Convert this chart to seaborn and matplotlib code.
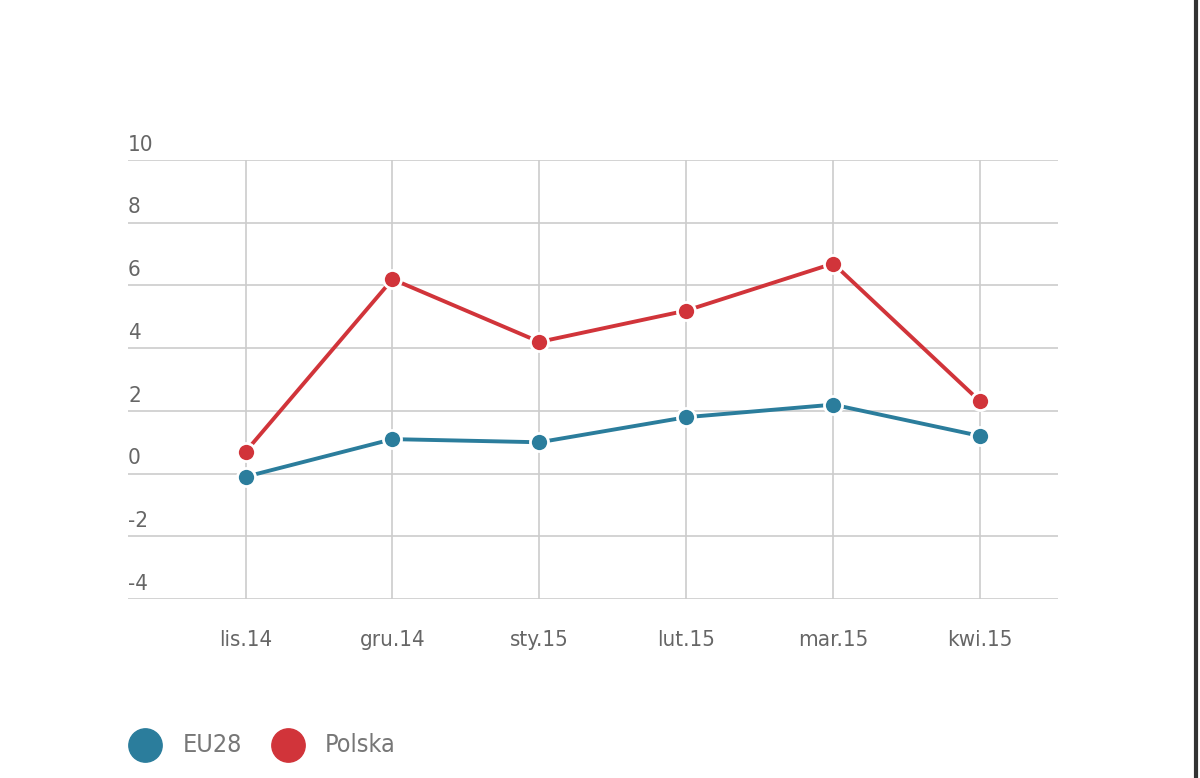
import matplotlib
matplotlib.use("Agg")
import matplotlib.pyplot as plt
import seaborn as sns
import pandas as pd

months = ["lis.14", "gru.14", "sty.15", "lut.15", "mar.15", "kwi.15"]
eu28 = [-0.1, 1.1, 1.0, 1.8, 2.2, 1.2]
polska = [0.7, 6.2, 4.2, 5.2, 6.7, 2.3]
yticks = [-4, -2, 0, 2, 4, 6, 8, 10]

colors = {"EU28": "#2b7d9c", "Polska": "#d1343a"}
df = pd.DataFrame({"x": list(range(len(months))) * 2,
                   "v": eu28 + polska,
                   "s": ["EU28"] * 6 + ["Polska"] * 6})

from matplotlib import font_manager
names = {f.name for f in font_manager.fontManager.ttflist}
fam = "Liberation Sans Narrow" if "Liberation Sans Narrow" in names else "DejaVu Sans"
plt.rcParams["font.family"] = fam
plt.rcParams["font.stretch"] = "condensed"

fig = plt.figure(figsize=(12, 7.78), dpi=100)
ax = fig.add_axes([0.1067, 0.230, 0.775, 0.5643])
sns.lineplot(data=df, x="x", y="v", hue="s", palette=colors, marker="o",
             markersize=13, markeredgecolor="white", markeredgewidth=2,
             linewidth=2.8, legend=False, ax=ax)
ax.set_xlim(-0.8, 5.53)
ax.set_ylim(-4, 10)
ax.set_yticks(yticks)
ax.set_xticks(range(len(months)))
ax.set_xticklabels(months, fontsize=16, color="#666666")
ax.tick_params(length=0, pad=22)
ax.set_yticklabels([])
for t in yticks:
    ax.text(0, t + 0.17, str(t), transform=ax.get_yaxis_transform(),
            fontsize=16, color="#666666", va="bottom", ha="left")
ax.grid(True, color="#cccccc", linewidth=1.2)
for s in ax.spines.values():
    s.set_visible(False)
ax.set_xlabel("")
ax.set_ylabel("")

# legend
for xpos, name in [(0.121, "EU28"), (0.240, "Polska")]:
    fig.add_artist(matplotlib.lines.Line2D([xpos], [0.042], marker="o", markersize=24,
                   color=colors[name], linestyle="none", transform=fig.transFigure))
for xpos, name in [(0.152, "EU28"), (0.271, "Polska")]:
    fig.text(xpos, 0.042, name, fontsize=18, color="#777777", va="center")

fig.add_artist(matplotlib.lines.Line2D([0.9967, 0.9967], [0, 1], color="#333333",
                                       linewidth=3, transform=fig.transFigure))
fig.savefig("out.png", dpi=100)
